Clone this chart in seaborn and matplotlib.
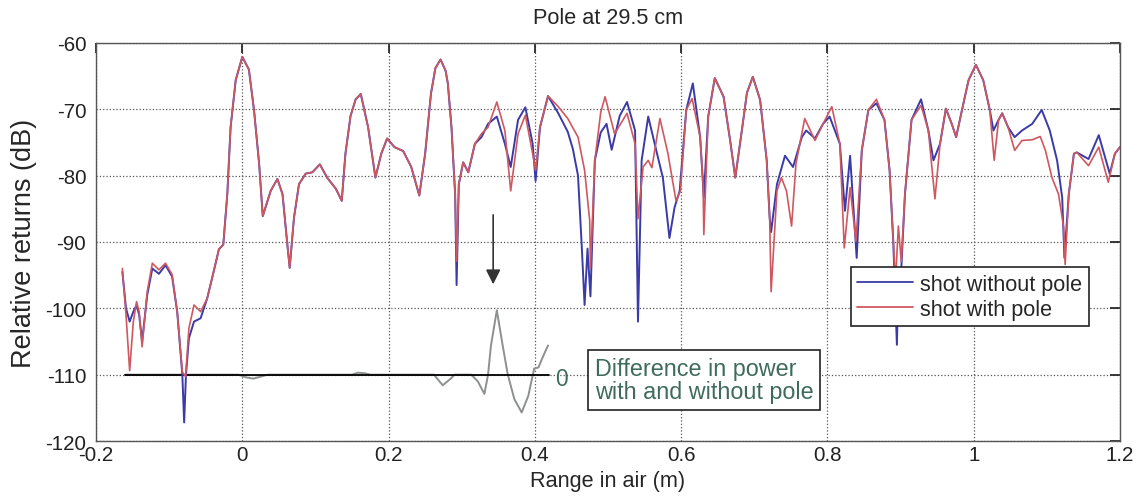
import numpy as np
import pandas as pd
import matplotlib
matplotlib.use('Agg')
import matplotlib.pyplot as plt
from matplotlib import font_manager
from matplotlib.lines import Line2D
import seaborn as sns

# (range in m, relative return in dB)
with_pole = np.array([
    (-0.164, -94.0), (-0.159, -101.0), (-0.154, -109.4), (-0.149, -102.0), (-0.1446, -99.0),
    (-0.141, -100.5), (-0.137, -105.8), (-0.130, -97.5), (-0.123, -93.2), (-0.114, -94.2),
    (-0.105, -93.2), (-0.096, -94.9), (-0.089, -100.5), (-0.082, -109.6), (-0.0775, -110.3),
    (-0.073, -103.0), (-0.066, -99.5), (-0.057, -100.5), (-0.048, -98.5), (-0.039, -94.4),
    (-0.032, -91.1), (-0.026, -90.4), (-0.0205, -82.8), (-0.016, -72.7), (-0.009, -65.6),
    (0.000, -62.1), (0.009, -64.0), (0.016, -70.1), (0.023, -78.2), (0.028, -86.1),
    (0.0388, -82.3), (0.048, -80.5), (0.055, -82.8), (0.0616, -90.4), (0.0648, -93.9),
    (0.0707, -86.3), (0.0775, -81.3), (0.0866, -79.7), (0.0958, -79.5), (0.106, -78.3),
    (0.116, -80.3), (0.128, -82.0), (0.136, -83.8), (0.141, -76.7), (0.148, -71.0),
    (0.155, -68.5), (0.162, -67.7), (0.172, -72.7), (0.182, -80.3), (0.190, -76.7),
    (0.198, -74.4), (0.208, -75.7), (0.220, -76.3), (0.231, -78.7), (0.242, -83.0),
    (0.250, -76.7), (0.258, -67.6), (0.264, -63.8), (0.271, -62.5), (0.278, -64.2),
    (0.281, -66.1), (0.286, -72.7), (0.291, -82.8), (0.293, -92.9), (0.296, -81.3),
    (0.302, -78.0), (0.309, -79.5), (0.318, -75.2), (0.327, -73.7), (0.336, -72.7),
    (0.348, -68.9), (0.359, -73.2), (0.367, -82.3), (0.377, -73.7), (0.387, -70.9),
    (0.397, -76.7), (0.401, -79.2), (0.407, -72.7), (0.418, -68.0), (0.432, -69.6),
    (0.445, -71.4), (0.459, -74.2), (0.468, -79.2), (0.475, -86.8), (0.476, -93.9),
    (0.482, -77.7), (0.490, -70.5), (0.496, -68.1), (0.509, -73.7), (0.526, -70.6),
    (0.537, -75.2), (0.541, -86.5), (0.548, -78.7), (0.555, -77.7), (0.560, -78.8),
    (0.571, -71.4), (0.582, -76.7), (0.593, -83.8), (0.599, -82.3), (0.607, -70.1),
    (0.615, -68.4), (0.626, -74.2), (0.630, -81.3), (0.631, -88.9), (0.637, -71.1),
    (0.646, -65.3), (0.658, -68.1), (0.667, -74.7), (0.674, -80.3), (0.683, -73.2),
    (0.690, -67.5), (0.698, -65.1), (0.708, -68.6), (0.717, -77.7), (0.721, -86.3),
    (0.723, -97.5), (0.731, -82.3), (0.737, -80.3), (0.744, -82.3), (0.751, -87.6),
    (0.757, -78.2), (0.769, -71.4), (0.783, -74.7), (0.794, -72.2), (0.806, -69.6),
    (0.817, -75.2), (0.823, -90.9), (0.831, -81.8), (0.839, -89.9), (0.847, -76.2),
    (0.856, -70.1), (0.867, -68.5), (0.878, -71.6), (0.885, -79.2), (0.890, -89.9),
    (0.893, -96.0), (0.897, -87.6), (0.901, -93.0), (0.906, -82.8), (0.915, -71.6),
    (0.928, -69.4), (0.938, -73.2), (0.947, -83.5), (0.954, -75.2), (0.962, -69.9),
    (0.970, -72.2), (0.976, -74.2), (0.984, -70.1), (0.993, -65.6), (1.003, -63.3),
    (1.013, -65.6), (1.022, -70.1), (1.028, -77.7), (1.034, -71.6), (1.039, -70.6),
    (1.047, -72.7), (1.056, -76.2), (1.066, -74.7), (1.080, -74.6), (1.091, -74.1),
    (1.098, -76.2), (1.107, -80.3), (1.116, -82.8), (1.123, -87.8), (1.125, -93.4),
    (1.130, -82.8), (1.137, -76.7), (1.141, -76.5), (1.157, -78.5), (1.171, -75.7),
    (1.184, -81.0), (1.193, -76.7), (1.200, -75.7),
])

without_pole = np.array([
    (-0.164, -94.5), (-0.159, -100.0), (-0.154, -102.0), (-0.149, -100.5), (-0.1446, -99.5),
    (-0.141, -101.0), (-0.137, -105.0), (-0.130, -98.0), (-0.123, -94.0), (-0.114, -94.8),
    (-0.105, -93.5), (-0.096, -95.2), (-0.089, -100.5), (-0.082, -110.0), (-0.0795, -117.2),
    (-0.077, -110.0), (-0.073, -104.5), (-0.066, -102.0), (-0.057, -101.5), (-0.048, -98.5),
    (-0.039, -94.4), (-0.032, -91.1), (-0.026, -90.4), (-0.0205, -82.8), (-0.016, -72.7),
    (-0.009, -65.6), (0.000, -62.1), (0.009, -64.0), (0.016, -70.1), (0.023, -78.2),
    (0.028, -86.1), (0.0388, -82.3), (0.048, -80.5), (0.055, -82.8), (0.0616, -90.4),
    (0.0648, -93.9), (0.0707, -86.3), (0.0775, -81.3), (0.0866, -79.7), (0.0958, -79.5),
    (0.106, -78.3), (0.116, -80.3), (0.128, -82.0), (0.136, -83.8), (0.141, -76.7),
    (0.148, -71.0), (0.155, -68.5), (0.162, -67.7), (0.172, -72.7), (0.182, -80.3),
    (0.190, -76.7), (0.198, -74.4), (0.208, -75.7), (0.220, -76.3), (0.231, -78.7),
    (0.242, -83.0), (0.250, -76.7), (0.258, -67.6), (0.264, -63.8), (0.271, -62.5),
    (0.278, -64.2), (0.281, -66.1), (0.286, -72.7), (0.291, -82.8), (0.293, -96.5),
    (0.296, -81.3), (0.302, -78.0), (0.309, -79.5), (0.318, -75.2), (0.327, -74.2),
    (0.336, -72.2), (0.348, -71.1), (0.359, -75.2), (0.367, -78.7), (0.377, -71.6),
    (0.387, -69.7), (0.397, -75.2), (0.401, -80.8), (0.407, -72.7), (0.418, -68.0),
    (0.432, -70.6), (0.445, -73.4), (0.452, -76.0), (0.459, -80.0), (0.464, -90.4),
    (0.468, -99.5), (0.472, -91.0), (0.476, -98.2), (0.482, -77.7), (0.490, -73.5),
    (0.498, -72.2), (0.505, -76.1), (0.516, -71.0), (0.526, -68.9), (0.537, -73.2),
    (0.541, -102.0), (0.546, -77.7), (0.555, -71.1), (0.566, -76.2), (0.575, -80.3),
    (0.584, -89.4), (0.591, -84.8), (0.598, -82.3), (0.607, -70.1), (0.616, -66.1),
    (0.626, -74.2), (0.631, -83.3), (0.637, -71.1), (0.646, -65.3), (0.658, -68.1),
    (0.667, -74.7), (0.674, -80.3), (0.683, -73.2), (0.690, -67.5), (0.698, -65.1),
    (0.708, -68.6), (0.717, -77.7), (0.721, -86.3), (0.723, -88.5), (0.731, -81.3),
    (0.742, -77.0), (0.753, -78.7), (0.765, -74.2), (0.771, -73.2), (0.783, -74.4),
    (0.794, -72.2), (0.803, -71.1), (0.817, -75.2), (0.824, -85.3), (0.831, -77.0),
    (0.840, -92.4), (0.847, -76.2), (0.856, -70.1), (0.867, -69.1), (0.878, -71.6),
    (0.885, -79.2), (0.890, -89.9), (0.895, -105.5), (0.897, -95.0), (0.901, -94.0),
    (0.906, -82.8), (0.915, -71.6), (0.928, -68.5), (0.938, -73.2), (0.945, -77.7),
    (0.954, -75.2), (0.962, -69.9), (0.970, -72.2), (0.976, -74.2), (0.984, -70.1),
    (0.993, -65.6), (1.003, -63.3), (1.013, -65.6), (1.022, -70.1), (1.027, -73.2),
    (1.034, -71.6), (1.039, -70.6), (1.047, -72.7), (1.056, -74.2), (1.066, -73.2),
    (1.080, -72.2), (1.093, -70.1), (1.104, -73.2), (1.114, -77.7), (1.121, -83.3),
    (1.124, -92.4), (1.130, -82.8), (1.137, -76.7), (1.141, -76.5), (1.157, -77.5),
    (1.171, -73.9), (1.186, -79.7), (1.193, -76.7), (1.200, -75.7),
])

# difference curve, drawn offset onto the -110 dB line
difference = np.array([
    (-0.160, -110.0), (-0.005, -110.0), (0.005, -110.4), (0.015, -110.6), (0.025, -110.3),
    (0.035, -110.0), (0.150, -110.0), (0.158, -109.7), (0.168, -109.8), (0.175, -110.0),
    (0.262, -110.0), (0.274, -111.6), (0.285, -110.6), (0.290, -110.0), (0.313, -110.0),
    (0.322, -111.0), (0.331, -112.9), (0.336, -110.0), (0.340, -105.6), (0.348, -100.3),
    (0.356, -105.6), (0.363, -110.0), (0.372, -113.7), (0.382, -115.7), (0.391, -113.2),
    (0.399, -109.1), (0.405, -108.9), (0.411, -107.3), (0.418, -105.6),
])
zero_x = [-0.160, 0.420]
zero_y = [-110.0, -110.0]

x_ticks = [-0.2, 0, 0.2, 0.4, 0.6, 0.8, 1, 1.2]
x_labels = ['-0.2', '0', '0.2', '0.4', '0.6', '0.8', '1', '1.2']
y_ticks = [-120, -110, -100, -90, -80, -70, -60]
y_labels = ['-120', '-110', '-100', '-90', '-80', '-70', '-60']

BLUE = '#3a3aa8'
RED = '#cf5860'
GREY = '#8c918d'
NOTE = '#3f6b5c'

sns.set_theme(style="white")
plt.rcParams['axes.unicode_minus'] = False

# the reference text is horizontally squeezed: use the narrow face when present
installed = {f.name for f in font_manager.fontManager.ttflist}
if 'Liberation Sans Narrow' in installed:
    plt.rcParams['font.family'] = ['Liberation Sans Narrow', 'DejaVu Sans']
    k = 1.0
else:
    plt.rcParams['font.family'] = ['Liberation Sans', 'DejaVu Sans']
    k = 0.82
VERT = ['Liberation Sans', 'DejaVu Sans']

fig = plt.figure(figsize=(11.39, 5.02), dpi=100)
ax = fig.add_axes([0.0843, 0.1195, 0.899, 0.793])

df_blue = pd.DataFrame(without_pole, columns=['x', 'y'])
df_red = pd.DataFrame(with_pole, columns=['x', 'y'])
df_diff = pd.DataFrame(difference, columns=['x', 'y'])

sns.lineplot(data=df_diff, x='x', y='y', color=GREY, lw=1.4, estimator=None, sort=False, ax=ax)
sns.lineplot(x=zero_x, y=zero_y, color='black', lw=1.3, estimator=None, sort=False, ax=ax)
sns.lineplot(data=df_blue, x='x', y='y', color=BLUE, lw=1.4, estimator=None, sort=False, ax=ax)
sns.lineplot(data=df_red, x='x', y='y', color=RED, lw=1.2, estimator=None, sort=False, ax=ax)

ax.set_xlim(-0.2, 1.2)
ax.set_ylim(-120, -60)
ax.set_xticks(x_ticks)
ax.set_xticklabels(x_labels)
ax.set_yticks(y_ticks)
ax.set_yticklabels(y_labels)
ax.grid(True, linestyle=':', color='#555555', lw=0.9)
ax.tick_params(direction='in', length=7, top=True, right=True, labelsize=18 * k,
               colors='#222222')
ax.tick_params(axis='x', pad=3)
ax.tick_params(axis='y', pad=7)
for s in ax.spines.values():
    s.set_color('#555555')
    s.set_linewidth(1.0)

ax.set_title('Pole at 29.5 cm', fontsize=19 * k, pad=14)
ax.set_xlabel('Range in air (m)', fontsize=19 * k, labelpad=4)
ax.set_ylabel('Relative returns (dB)', fontsize=19.5, family=VERT, labelpad=6)

# arrow pointing at the pole response
ax.annotate('', xy=(0.343, -96.8), xytext=(0.343, -85.5),
            arrowprops=dict(arrowstyle='-|>', color='#333333', lw=1.2, mutation_scale=22))

ax.text(0.437, -110.6, '0', color=NOTE, fontsize=20 * k, ha='center', va='center')
ax.text(0.482, -110.8, 'Difference in power\nwith and without pole', color=NOTE,
        fontsize=20.5 * k, ha='left', va='center', linespacing=1.0,
        bbox=dict(boxstyle='square,pad=0.3', fc='white', ec='#222222', lw=1.2))

handles = [Line2D([], [], color=BLUE, lw=1.3), Line2D([], [], color=RED, lw=1.3)]
leg = ax.legend(handles, ['shot without pole', 'shot with pole'], loc='upper left',
                bbox_to_anchor=(0.737, 0.437), fontsize=19 * k, frameon=True, fancybox=False,
                framealpha=1, edgecolor='#222222', handlelength=2.6, handletextpad=0.3,
                borderpad=0.3, labelspacing=0.2, borderaxespad=0)
leg.get_frame().set_linewidth(1.2)

fig.savefig('out.png', dpi=100)
